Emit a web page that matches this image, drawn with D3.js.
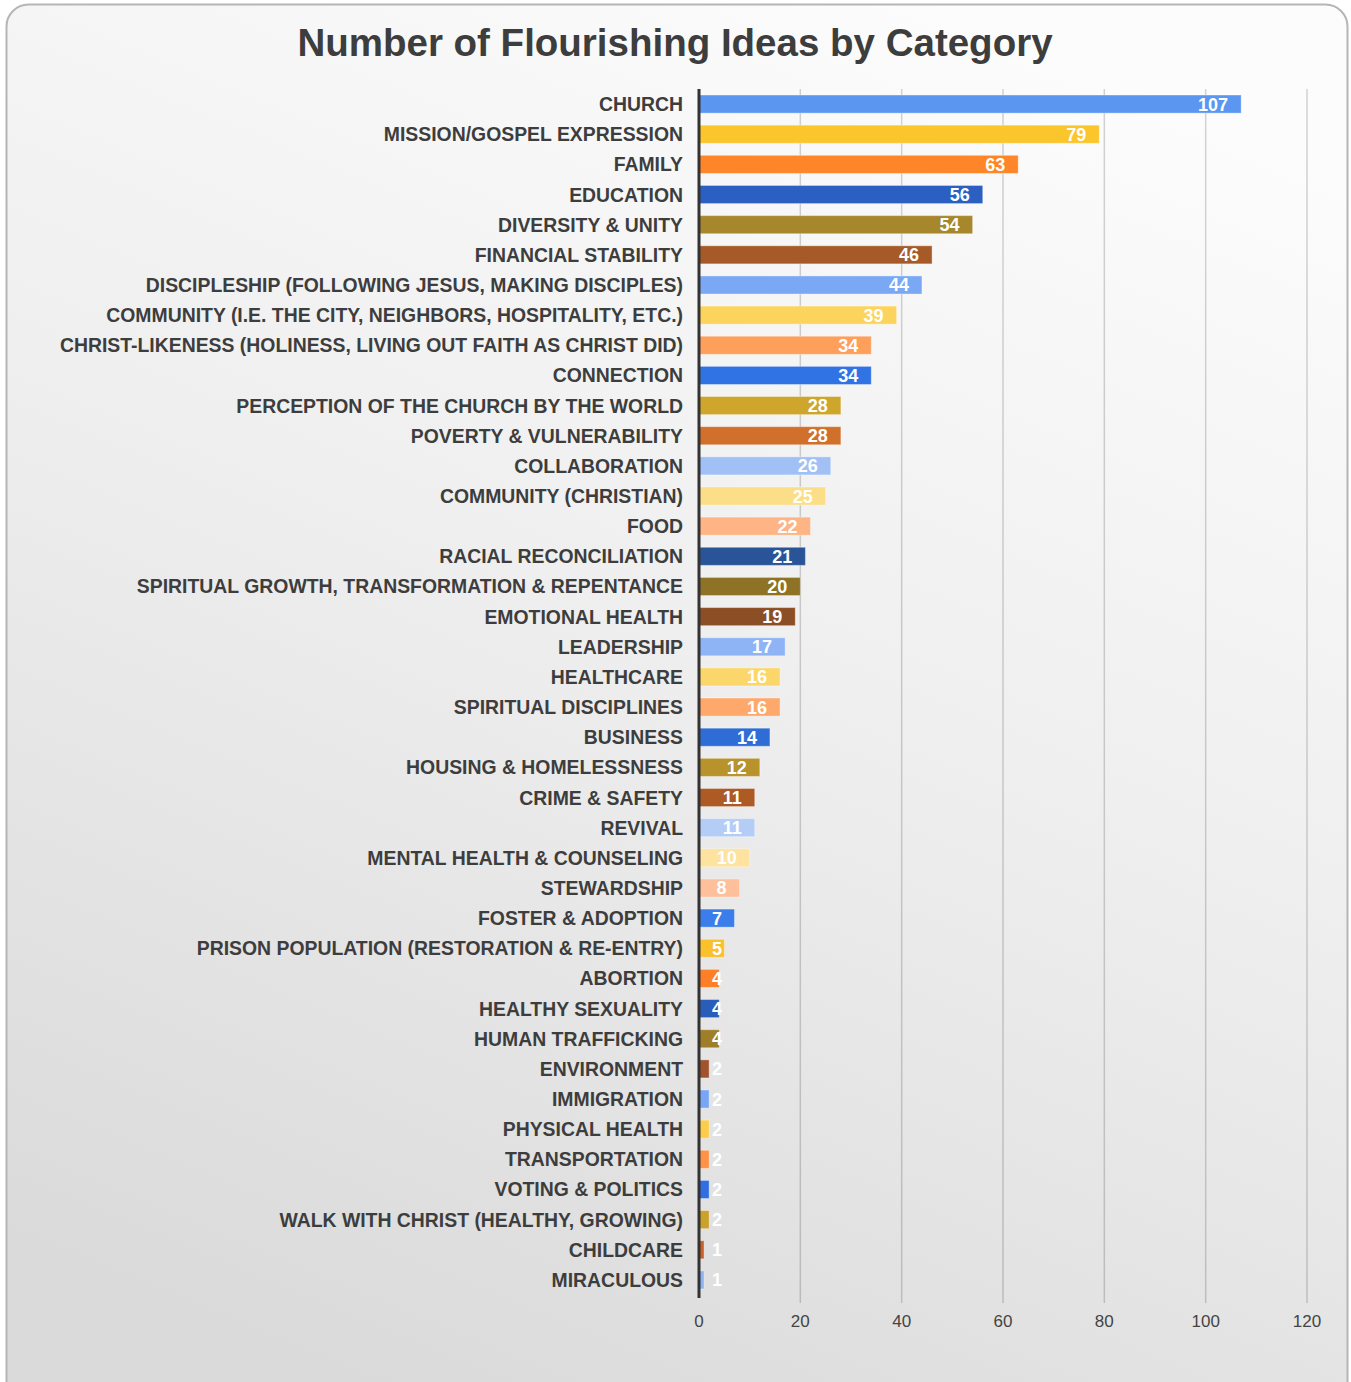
<!DOCTYPE html>
<html>
<head>
<meta charset="utf-8">
<script src="https://cdn.jsdelivr.net/npm/d3@7"></script>
<style>
  body { margin: 0; background: #fff; }
  text { font-family: "Liberation Sans", Arial, Helvetica, sans-serif; }
</style>
</head>
<body>
<div id="d3chart"></div>
<script>
// DATA ===========================================================================================
const categories = [
  "CHURCH", "MISSION/GOSPEL EXPRESSION", "FAMILY", "EDUCATION", "DIVERSITY & UNITY",
  "FINANCIAL STABILITY", "DISCIPLESHIP (FOLLOWING JESUS, MAKING DISCIPLES)",
  "COMMUNITY (I.E. THE CITY, NEIGHBORS, HOSPITALITY, ETC.)",
  "CHRIST-LIKENESS (HOLINESS, LIVING OUT FAITH AS CHRIST DID)", "CONNECTION",
  "PERCEPTION OF THE CHURCH BY THE WORLD", "POVERTY & VULNERABILITY", "COLLABORATION",
  "COMMUNITY (CHRISTIAN)", "FOOD", "RACIAL RECONCILIATION",
  "SPIRITUAL GROWTH, TRANSFORMATION & REPENTANCE", "EMOTIONAL HEALTH", "LEADERSHIP",
  "HEALTHCARE", "SPIRITUAL DISCIPLINES", "BUSINESS", "HOUSING & HOMELESSNESS",
  "CRIME & SAFETY", "REVIVAL", "MENTAL HEALTH & COUNSELING", "STEWARDSHIP",
  "FOSTER & ADOPTION", "PRISON POPULATION (RESTORATION & RE-ENTRY)", "ABORTION",
  "HEALTHY SEXUALITY", "HUMAN TRAFFICKING", "ENVIRONMENT", "IMMIGRATION",
  "PHYSICAL HEALTH", "TRANSPORTATION", "VOTING & POLITICS",
  "WALK WITH CHRIST (HEALTHY, GROWING)", "CHILDCARE", "MIRACULOUS"
]
const values = [
  107, 79, 63, 56, 54, 46, 44, 39, 34, 34,
  28, 28, 26, 25, 22, 21, 20, 19, 17, 16,
  16, 14, 12, 11, 11, 10, 8, 7, 5, 4,
  4, 4, 2, 2, 2, 2, 2, 2, 1, 1
]
const barColors = [
  "#5b96f1", "#fbc52c", "#fe8528", "#2b5fc1", "#a6872c", "#a65a28",
  "#7ba8f5", "#fcd35c", "#fe9f5c", "#2f73e4", "#cfa62c", "#d1702a",
  "#a1c0f6", "#fcdd88", "#feb484", "#2a5498", "#8e7226", "#8c4e24",
  "#8fb4f6", "#fbd76b", "#fea86c", "#2e6dd6", "#b8922b", "#ae5a25",
  "#b4cdf7", "#fde39f", "#febf9b", "#3b7dea", "#fbc12b", "#fe7f25",
  "#2a5dba", "#9e7e27", "#a0532d", "#78a6f5", "#fbcd4b", "#fe9246",
  "#2f6fe2", "#c9a12b", "#c8622a", "#8fb3f2"
]
const xTicks = [0, 20, 40, 60, 80, 100, 120]
const title = "Number of Flourishing Ideas by Category"

const data = categories.map((c, i) => ({ category: c, value: values[i], color: barColors[i] }))

// SET UP =========================================================================================
const width = 1351
const height = 1382
const dimensions = { top: 89, bottom: 85, left: 699, right: 44 }
const ctr_width = width - dimensions.left - dimensions.right
const ctr_height = height - dimensions.top - dimensions.bottom

const root = d3.select('#d3chart')
  .append('svg')
  .attr('width', width)
  .attr('height', height)

const defs = root.append('defs')
const grad = defs.append('linearGradient')
  .attr('id', 'bg')
  .attr('x1', '70%').attr('y1', '0%')
  .attr('x2', '30%').attr('y2', '100%')
grad.append('stop').attr('offset', '0%').attr('stop-color', '#fcfcfc')
grad.append('stop').attr('offset', '45%').attr('stop-color', '#efefef')
grad.append('stop').attr('offset', '100%').attr('stop-color', '#dadada')

// card
root.append('rect')
  .attr('x', 6.5).attr('y', 4.5)
  .attr('width', 1341).attr('height', 1400)
  .attr('rx', 22)
  .attr('fill', 'url(#bg)')
  .attr('stroke', '#b5b5b5')
  .attr('stroke-width', 2)

root.append('text')
  .attr('x', 675)
  .attr('y', 56)
  .attr('text-anchor', 'middle')
  .attr('font-size', 38.5)
  .attr('font-weight', 'bold')
  .attr('fill', '#3d3d3d')
  .text(title)

const svg = root.append('g')
  .attr('transform', `translate(${dimensions.left}, ${dimensions.top})`)

// SCALES AND AXES ================================================================================
const x = d3.scaleLinear()
  .domain([0, 120])
  .range([0, 608])

const y = d3.scaleBand()
  .domain(categories)
  .range([0, ctr_height - 2])
  .paddingInner(0.4)
  .paddingOuter(0.2)

// gridlines
svg.append('g')
  .selectAll('line')
  .data(xTicks.slice(1))
  .join('line')
    .attr('x1', d => x(d)).attr('x2', d => x(d))
    .attr('y1', 0).attr('y2', ctr_height + 6)
    .attr('stroke', '#000')
    .attr('stroke-opacity', 0.17)
    .attr('stroke-width', 1.5)

// tick labels
svg.append('g')
  .attr('transform', `translate(0, ${ctr_height})`)
  .selectAll('text')
  .data(xTicks)
  .join('text')
    .attr('x', d => x(d))
    .attr('y', 30)
    .attr('text-anchor', 'middle')
    .attr('font-size', 17)
    .attr('fill', '#444')
    .text(d => d)

// category labels
svg.append('g')
  .selectAll('text')
  .data(data)
  .join('text')
    .attr('x', -16)
    .attr('y', d => y(d.category) + y.bandwidth() / 2)
    .attr('dy', '0.36em')
    .attr('text-anchor', 'end')
    .attr('font-size', 19.4)
    .attr('font-weight', 'bold')
    .attr('fill', '#3d3d3d')
    .text(d => d.category)

// MARKS ==========================================================================================
svg.selectAll('.bar')
  .data(data)
  .join('rect')
    .attr('class', 'bar')
    .attr('x', 0)
    .attr('y', d => y(d.category))
    .attr('width', d => x(d.value))
    .attr('height', y.bandwidth())
    .attr('fill', d => d.color)
    .attr('stroke', '#fff')
    .attr('stroke-opacity', 0.35)
    .attr('stroke-width', 1)

svg.selectAll('.val')
  .data(data)
  .join('text')
    .attr('class', 'val')
    .attr('x', d => Math.max(x(d.value) - 13, 23))
    .attr('y', d => y(d.category) + y.bandwidth() / 2)
    .attr('dy', '0.36em')
    .attr('text-anchor', 'end')
    .attr('font-size', 18)
    .attr('font-weight', 'bold')
    .attr('fill', '#fff')
    .text(d => d.value)

// axis line
svg.append('line')
  .attr('x1', 0).attr('x2', 0)
  .attr('y1', 0).attr('y2', ctr_height + 1)
  .attr('stroke', '#333')
  .attr('stroke-width', 3)
</script>
</body>
</html>
